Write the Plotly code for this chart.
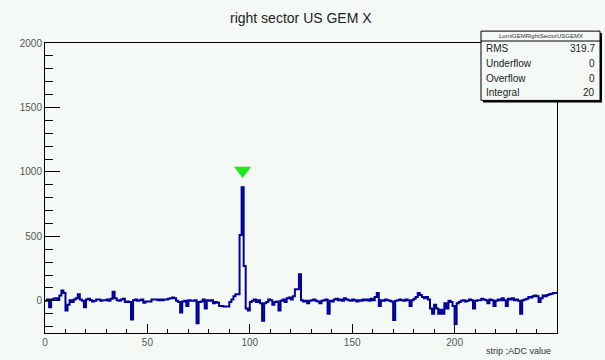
import plotly.graph_objects as go

# ---- data ----
title_text = "right sector US GEM X"
stats_name = "LumiGEMRightSectorUSGEMX"
stats_labels = ["RMS", "Underflow", "Overflow", "Integral"]
stats_values = ["319.7", "0", "0", "20"]
x_title = "strip ;ADC value"

bin_low = 0
bin_width = 1
adc_values = [
    0, 10, -50, 10, 15, 20, 10, 40, 80, 60,
    -75, -30, 5, -10, 10, 20, 50, 10, 0, -50,
    10, 15, 5, -5, 0, 10, 10, 0, 5, 5,
    10, 0, 15, 70, 20, 5, 0, 10, 15, -10,
    -5, -10, -145, 5, 10, 0, 5, 10, -15, -5,
    -5, -5, 10, 10, 10, 5, 10, 5, 10, 10,
    15, 20, 25, 20, 0, -10, -90, -5, 0, -40,
    5, 0, 0, 5, -175, -10, -5, 10, -60, 5,
    0, 5, -20, -10, -15, -40, -40, -45, -45, -45,
    -10, 10, 35, 50, 50, 510, 880, 270, -60, -75,
    -10, 0, 10, -10, 5, -20, -155, -20, -10, 10,
    5, -30, -10, -5, -75, 0, 10, -10, 20, 25,
    10, 35, 90, 90, 205, 5, -5, 0, -20, 0,
    5, 10, 0, -5, -20, 0, 5, 10, -100, 0,
    -5, 10, 15, 5, 10, 0, 20, 10, 5, 0,
    10, 5, -5, 5, 0, 10, 5, 10, 0, 15,
    5, 30, 60, -40, 5, 0, 10, 5, 0, -5,
    -150, 0, 5, 10, 5, 0, 10, 5, -40, 5,
    15, 30, 60, 45, 30, 20, 30, 10, -60, -100,
    -30, -60, -100, -70, -100, -20, -60, 0, -10, -40,
    -180, -20, -10, 0, 5, -5, 0, 10, 5, -60,
    0, 5, 5, 15, 10, 5, -20, 10, 5, -40,
    0, 10, 5, 20, 5, -40, 15, 10, 20, 5,
    10, 0, -100, 5, 10, 15, 30, 25, 35, 40,
    35, -10, 20, 40, 35, 45, 50, 55, 60, 60,
]
peak_x = [96.5]
peak_y = [1010]

x_range = [0, 250]
y_range = [-250, 2000]
x_ticks = [0, 50, 100, 150, 200]
y_ticks = [0, 500, 1000, 1500, 2000]

# ---- build step histogram from bins ----
edges = [bin_low + i * bin_width for i in range(len(adc_values) + 1)]
xs = edges
ys = adc_values + [adc_values[-1]]

bg = "#f4f9f6"
hist_color = "#000099"

fig = go.Figure()
fig.add_trace(go.Scatter(
    x=xs, y=ys, mode="lines", line=dict(color=hist_color, width=2, shape="hv"),
    hoverinfo="skip", showlegend=False,
))
fig.add_trace(go.Scatter(
    x=peak_x, y=peak_y, mode="markers",
    marker=dict(symbol="triangle-down", size=15, color="#1ee81e", line=dict(width=0)),
    showlegend=False,
))

tick_font = dict(family="Liberation Sans, Arial, sans-serif", size=10, color="#555555")

fig.update_layout(
    width=605, height=360,
    margin=dict(l=45, r=48, t=43, b=24),
    paper_bgcolor=bg, plot_bgcolor=bg,
    showlegend=False,
    xaxis=dict(
        range=x_range, tickvals=x_ticks, ticktext=[str(v) for v in x_ticks],
        ticks="inside", ticklen=9, tickcolor="black", tickwidth=1,
        minor=dict(dtick=10, ticks="inside", ticklen=4, tickcolor="black", tickwidth=1),
        showline=True, linecolor="black", linewidth=1, mirror=True,
        showgrid=False, zeroline=False, tickfont=tick_font,
    ),
    yaxis=dict(
        range=y_range, tickvals=y_ticks, ticktext=[str(v) for v in y_ticks],
        ticks="inside", ticklen=15, tickcolor="black", tickwidth=1,
        minor=dict(dtick=100, ticks="inside", ticklen=8, tickcolor="black", tickwidth=1),
        showline=True, linecolor="black", linewidth=1, mirror=True,
        showgrid=False, zeroline=False, tickfont=tick_font,
    ),
    font=dict(family="Liberation Sans, Arial, sans-serif"),
)

# title
fig.add_annotation(
    text=title_text, xref="paper", yref="paper", x=0.5, y=1, yshift=25,
    xanchor="center", yanchor="middle", showarrow=False,
    font=dict(family="Liberation Sans, Arial, sans-serif", size=14, color="#222222"),
)
# x-axis title
fig.add_annotation(
    text=x_title, xref="paper", yref="paper", x=1, y=0, xshift=-4, yshift=-18,
    xanchor="right", yanchor="middle", showarrow=False,
    font=dict(family="Liberation Sans, Arial, sans-serif", size=9, color="#333333"),
)

# stats box in pixel-derived paper coords
W, H = 605, 360
pl, pt, pw, ph = 45, 43, 512, 293
def px(x):
    return (x - pl) / pw
def py(y):
    return 1 - (y - pt) / ph

bx0, bx1, by0, by1 = 481, 600, 31, 101
# shadow
fig.add_shape(type="rect", xref="paper", yref="paper",
              x0=px(bx0 + 2), x1=px(bx1 + 2), y0=py(by1 + 2), y1=py(by0 + 2),
              fillcolor="black", line=dict(width=0), layer="above")
fig.add_shape(type="rect", xref="paper", yref="paper",
              x0=px(bx0), x1=px(bx1), y0=py(by1), y1=py(by0),
              fillcolor=bg, line=dict(color="black", width=1), layer="above")
fig.add_shape(type="line", xref="paper", yref="paper",
              x0=px(bx0), x1=px(bx1), y0=py(41), y1=py(41),
              line=dict(color="black", width=1), layer="above")
fig.add_annotation(text=stats_name, xref="paper", yref="paper",
                   x=px((bx0 + bx1) / 2), y=py(36), showarrow=False,
                   xanchor="center", yanchor="middle",
                   font=dict(size=6, color="#333333"))
row_y = [49, 64, 79, 93]
for lab, val, ry in zip(stats_labels, stats_values, row_y):
    fig.add_annotation(text=lab, xref="paper", yref="paper", x=px(bx0 + 3), y=py(ry),
                       showarrow=False, xanchor="left", yanchor="middle",
                       font=dict(size=10, color="#222222"))
    fig.add_annotation(text=val, xref="paper", yref="paper", x=px(bx1 - 3), y=py(ry),
                       showarrow=False, xanchor="right", yanchor="middle",
                       font=dict(size=10, color="#222222"))

fig.write_html("out.html",
               config={"displayModeBar": False},
               post_script="document.body.style.margin='0px';document.body.style.background='%s';" % bg)
